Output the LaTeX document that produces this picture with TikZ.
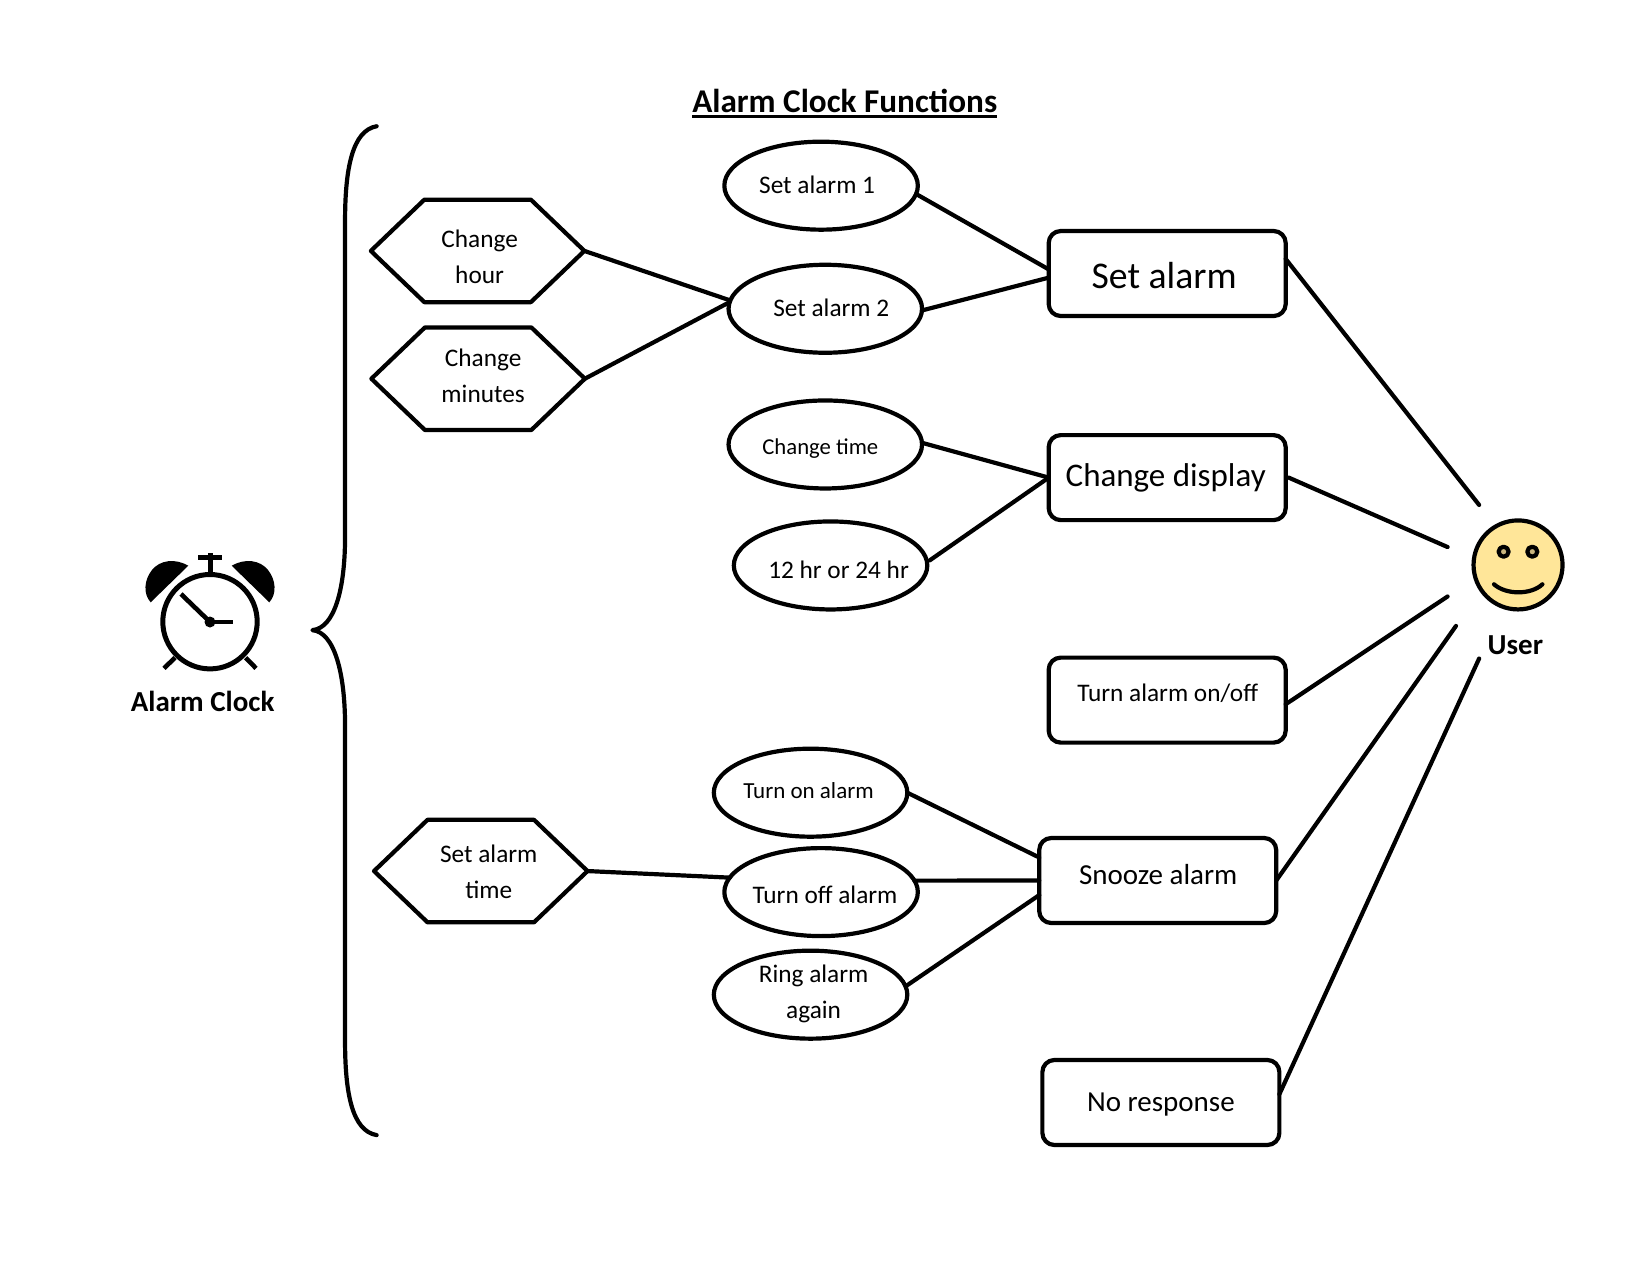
\documentclass[tikz,border=0pt]{standalone}
\usepackage{fontspec}
\setmainfont{Carlito}
\usetikzlibrary{shapes.geometric,calc}
\definecolor{smile}{HTML}{FFE699}
\definecolor{eye}{HTML}{C9B57E}
\newcommand{\fs}[1]{\fontsize{#1}{36}\selectfont}
\newcommand{\hexpath}[1]{\draw[lw] (#1.west) -- ([xshift=53.5pt]#1.north west) -- ([xshift=-53.5pt]#1.north east) -- (#1.east) -- ([xshift=-53.5pt]#1.south east) -- ([xshift=53.5pt]#1.south west) -- cycle;}
\tikzset{
  lw/.style={line width=4.2pt,line cap=round,line join=round},
  oval/.style={ellipse,draw,lw,minimum width=193.5pt,minimum height=88pt,inner sep=0pt,outer sep=0pt},
  hexa/.style={rectangle,minimum width=213.5pt,minimum height=102.5pt,inner sep=0pt,outer sep=0pt},
  box/.style={rectangle,rounded corners=12pt,draw,lw,minimum width=237pt,minimum height=85pt,inner sep=0pt,outer sep=0pt},
  lab/.style={align=center,inner sep=0pt,font=\fs{25.3}},
  wire/.style={lw},
  head/.style={inner sep=0pt,font=\bfseries\fs{29}},
}
\begin{document}
\begin{tikzpicture}[x=1.052pt,y=-1.052pt]
\useasboundingbox (0,0) rectangle (1568.44,1212);
% title
\node[inner sep=0pt,font=\bfseries\fs{33.2}] (title) at (803,96) {Alarm Clock Functions};
\draw[line width=2.4pt] ([yshift=-4pt]title.base west) -- ([yshift=-4pt]title.base east);
% brace
\draw[lw] (358,120) .. controls (335,124) and (328,160) .. (328,210) -- (328,510) .. controls (328,560) and (318,597) .. (297,599) .. controls (318,601) and (328,640) .. (328,690) -- (328,990) .. controls (328,1040) and (335,1075) .. (358,1079);
% hexagons
\node[hexa,label={[lab,xshift=2pt,yshift=-6pt]center:Change\\hour}] (h1) at (454,238.5) {};
\node[hexa,label={[lab,xshift=5pt,yshift=3pt]center:Change\\minutes}] (h2) at (454.5,360) {};
\node[hexa,label={[lab,xshift=8pt,yshift=-1pt]center:Set alarm\\time}] (h3) at (457,828) {};
\hexpath{h1}
\hexpath{h2}
\hexpath{h3}
% ovals
\node[oval,label={[lab,xshift=-4pt,yshift=1pt]center:Set alarm 1}] (o1) at (780.5,176.5) {};
\node[oval,label={[lab,xshift=6pt,yshift=1pt]center:Set alarm 2}] (o2) at (784.5,293.5) {};
\node[oval,label={[lab,font=\fs{22.7},xshift=-5pt,yshift=-4pt]center:Change time}] (o3) at (784.5,422.5) {};
\node[oval,label={[lab,xshift=8pt,yshift=-4pt]center:12 hr or 24 hr}] (o4) at (789.5,537.5) {};
\node[oval,label={[lab,font=\fs{23},xshift=-2pt,yshift=2pt]center:Turn on alarm}] (o5) at (770.5,753.5) {};
\node[oval,label={[lab,xshift=4pt,yshift=-3pt]center:Turn off alarm}] (o6) at (780.5,848) {};
\node[oval,label={[lab,xshift=3pt,yshift=1pt]center:Ring alarm\\again}] (o7) at (770.5,945.5) {};
% boxes
\node[box,label={[lab,font=\fs{37.7},xshift=-3pt,yshift=-2.5pt]center:Set alarm}] (b1) at (1109.5,260) {};
\node[box,label={[lab,font=\fs{33},xshift=-1.5pt]center:Change display}] (b2) at (1109.5,454) {};
\node[box,label={[lab,xshift=0.5pt,yshift=7pt]center:Turn alarm on/off}] (b3) at (1109.5,665.5) {};
\node[box,label={[lab,font=\fs{29},xshift=0.5pt,yshift=6pt]center:Snooze alarm}] (b4) at (1100.5,837) {};
\node[box,label={[lab,font=\fs{29},yshift=-2pt]center:No response}] (b5) at (1103.5,1048) {};
% user
\node[circle,draw,lw,fill=smile,minimum size=89pt,inner sep=0pt,outer sep=0pt] (user) at (1443,537) {};
\node[head] (userlab) at (1440.5,613) {User};
\coordinate (u1) at (1406,480);
\coordinate (u2) at (1376,520);
\coordinate (u3) at (1376,567);
\coordinate (u4) at (1384,595);
\coordinate (u5) at (1406,626);
% connectors
\draw[wire] (h1.east) -- (o2.175);
\draw[wire] (h2.east) -- (o2.176);
\draw[wire] (o1.-5) -- (b1.178);
\draw[wire] (o2.-1) -- (b1.182);
\draw[wire] (o3.1) -- (b2.west);
\draw[wire] ([xshift=3pt]o4.3) -- (b2.west);
\draw[wire] (h3.east) -- (o6.171);
\draw[wire] (o5.0) -- (b4.169);
\draw[wire] (o6.7) -- (b4.west);
\draw[wire] (o7.5) -- (b4.187);
\draw[wire] (b1.7) -- (u1);
\draw[wire] ([xshift=3pt]b2.east) -- (u2);
\draw[wire] (b3.-2) -- (u3);
\draw[wire] (b4.east) -- (u4);
\draw[wire] (b5.4) -- (u5);
% smiley details (reference pixels)
\begin{scope}[x=1pt,y=-1pt]
\draw[lw,fill=eye] (1503.6,551.7) circle (5pt);
\draw[lw,fill=eye] (1532.3,551.7) circle (5pt);
\draw[lw] (1494,584.3) .. controls (1506,595) and (1531,595) .. (1542.4,584.3);
% clock
\draw[line width=5pt] (210,621.7) circle (47.2pt);
\draw[line width=5pt] (210,574) -- (210,553);
\draw[line width=5.5pt] (198,557.7) -- (222,557.7);
\draw[line width=4.6pt] (181,594) -- (210,622);
\draw[line width=4.6pt] (210,622) -- (233.3,622);
\fill (210,622) circle (5.5pt);
\draw[line width=4.6pt] (175,657.7) -- (164,668.3);
\draw[line width=4.6pt] (245.7,657.7) -- (256,668.3);
\fill (188.3,565.7) .. controls (175,558) and (160,560) .. (152,570) .. controls (144,580) and (143,594) .. (150.7,602.3) -- cycle;
\fill (231.7,565.7) .. controls (245,558) and (260,560) .. (268,570) .. controls (276,580) and (277,594) .. (269.3,602.3) -- cycle;
\node[head] (clocklab) at (202.7,701.7) {Alarm Clock};
\end{scope}
\end{tikzpicture}
\end{document}
